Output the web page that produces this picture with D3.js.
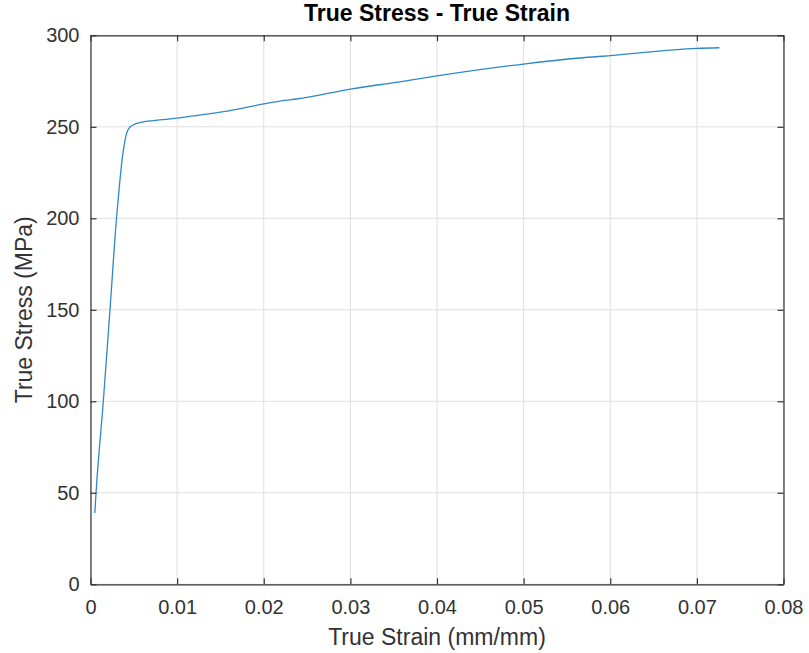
<!DOCTYPE html>
<html>
<head>
<meta charset="utf-8">
<script src="https://cdn.jsdelivr.net/npm/d3@7"></script>
<style>
  html, body { margin: 0; padding: 0; background: #ffffff; }
  svg { display: block; font-family: "Liberation Sans", Arial, Helvetica, sans-serif; }
</style>
</head>
<body>
<svg id="chart" width="809" height="653"></svg>
<script>
// ---- data ----
const strain = [0.0005, 0.00064, 0.00148, 0.00225, 0.0030, 0.0034, 0.0037, 0.0040, 0.0042, 0.0046, 0.0050, 0.0057, 0.0075, 0.0100, 0.0119, 0.0161, 0.0200, 0.0220, 0.0238, 0.0300, 0.0357, 0.0400, 0.0500, 0.0565, 0.0600, 0.0700, 0.0726];
const stress = [39, 50, 100, 150, 200, 221, 234, 243, 247, 250, 251.2, 252.3, 253.5, 254.7, 256, 258.8, 262.5, 264.2, 265.2, 270.6, 274.6, 277.8, 284.3, 287.6, 288.9, 292.9, 293.2];
const xTicks = [0, 0.01, 0.02, 0.03, 0.04, 0.05, 0.06, 0.07, 0.08];
const xTickLabels = ["0", "0.01", "0.02", "0.03", "0.04", "0.05", "0.06", "0.07", "0.08"];
const yTicks = [0, 50, 100, 150, 200, 250, 300];
const titleText = "True Stress - True Strain";
const xLabelText = "True Strain (mm/mm)";
const yLabelText = "True Stress (MPa)";

// ---- layout ----
const pL = 90.5, pR = 783.5, pT = 35.3, pB = 584.3;
const svg = d3.select("#chart");
const x = d3.scaleLinear().domain([0, 0.08]).range([pL, pR]);
const y = d3.scaleLinear().domain([0, 300]).range([pB, pT]);
const axisColor = "#333333";
const gridColor = "#dfdfdf";
const tickLen = 6;

// grid
const grid = svg.append("g");
grid.selectAll("line.gx").data(xTicks).join("line")
  .attr("x1", d => x(d)).attr("x2", d => x(d))
  .attr("y1", pT).attr("y2", pB)
  .attr("stroke", gridColor).attr("stroke-width", 1);
grid.selectAll("line.gy").data(yTicks).join("line")
  .attr("x1", pL).attr("x2", pR)
  .attr("y1", d => y(d)).attr("y2", d => y(d))
  .attr("stroke", gridColor).attr("stroke-width", 1);

// curve
const pts = strain.map((s, i) => [s, stress[i]]);
svg.append("path")
  .datum(pts)
  .attr("fill", "none")
  .attr("stroke", "#2f88c6")
  .attr("stroke-width", 1.3)
  .attr("d", d3.line().x(d => x(d[0])).y(d => y(d[1])).curve(d3.curveMonotoneX));

// axes (inward ticks, MATLAB-like box)
const xAxisB = d3.axisBottom(x).tickValues(xTicks).tickFormat((d, i) => xTickLabels[i]).tickSizeInner(-tickLen).tickSizeOuter(0).tickPadding(16);
const xAxisT = d3.axisTop(x).tickValues(xTicks).tickFormat("").tickSizeInner(-tickLen).tickSizeOuter(0);
const yAxisL = d3.axisLeft(y).tickValues(yTicks).tickFormat(d3.format("d")).tickSizeInner(-tickLen).tickSizeOuter(0).tickPadding(11);
const yAxisR = d3.axisRight(y).tickValues(yTicks).tickFormat("").tickSizeInner(-tickLen).tickSizeOuter(0);

function style(g) {
  g.select(".domain").attr("stroke", axisColor).attr("stroke-width", 1.2);
  g.selectAll(".tick line").attr("stroke", axisColor).attr("stroke-width", 1.2);
  g.selectAll(".tick text").attr("fill", axisColor).style("font-size", "20px")
    .style("font-family", "'Liberation Sans', Arial, Helvetica, sans-serif");
}
svg.append("g").attr("transform", `translate(0,${pB})`).call(xAxisB).call(style);
svg.append("g").attr("transform", `translate(0,${pT})`).call(xAxisT).call(style);
svg.append("g").attr("transform", `translate(${pL},0)`).call(yAxisL).call(style);
svg.append("g").attr("transform", `translate(${pR},0)`).call(yAxisR).call(style);

// title & labels
svg.append("text")
  .attr("x", (pL + pR) / 2).attr("y", 21)
  .attr("text-anchor", "middle")
  .attr("fill", "#000")
  .style("font-size", "23px").style("font-weight", "bold")
  .text(titleText);
svg.append("text")
  .attr("x", (pL + pR) / 2).attr("y", 645)
  .attr("text-anchor", "middle")
  .attr("fill", axisColor)
  .style("font-size", "23px")
  .text(xLabelText);
svg.append("text")
  .attr("transform", `translate(32,${(pT + pB) / 2}) rotate(-90)`)
  .attr("text-anchor", "middle")
  .attr("fill", axisColor)
  .style("font-size", "23px")
  .text(yLabelText);
</script>
</body>
</html>
